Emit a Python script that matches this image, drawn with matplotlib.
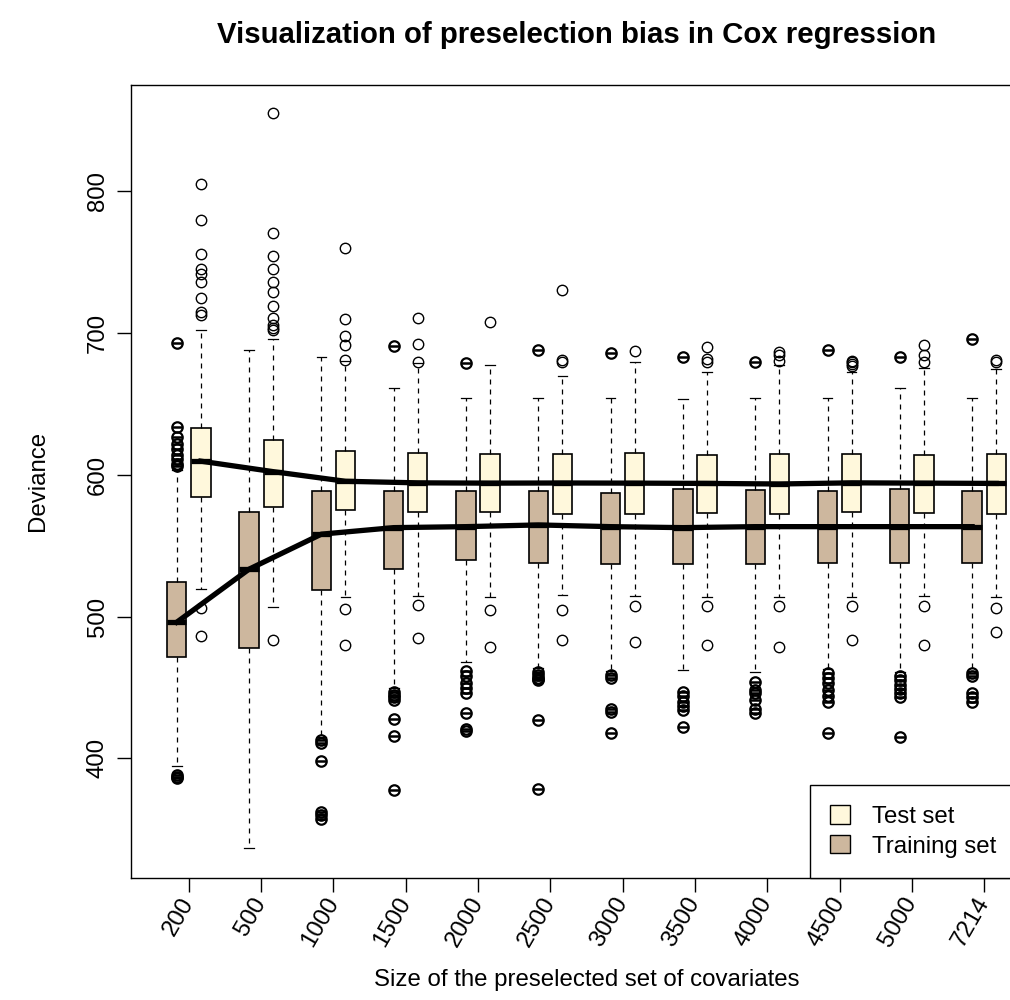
import matplotlib
matplotlib.use("Agg")
import matplotlib.pyplot as plt
from matplotlib.patches import Patch

plt.rcParams['font.family'] = ['Liberation Sans', 'DejaVu Sans']

# Size of the preselected covariate set
sizes = ["200", "500", "1000", "1500", "2000", "2500", "3000", "3500",
         "4000", "4500", "5000", "7214"]

# Training set deviance summaries
train_q3 = [524.7, 573.9, 588.9, 588.9, 588.9, 588.9, 587.5, 590.3, 589.4, 588.7, 589.9, 588.9]
train_med = [496.1, 533.5, 558.2, 562.8, 563.5, 564.7, 563.5, 562.8, 563.5, 563.5, 563.5, 563.5]
train_q1 = [471.8, 478.0, 519.1, 533.4, 540.2, 538.1, 537.2, 537.2, 537.2, 537.7, 537.7, 537.7]
train_whi = [603.5, 688.2, 683.0, 661.1, 654.3, 654.3, 654.3, 653.8, 654.3, 654.3, 661.2, 654.3]
train_wlo = [394.7, 337.0, 415.0, 449.5, 468.0, 464.0, 462.0, 462.2, 461.2, 463.0, 461.2, 462.0]
train_out = [
    [386, 387, 388, 606, 608, 611, 614, 618, 622, 627, 634, 693],
    [],
    [357, 360, 362.5, 398, 411, 413],
    [378, 416, 428, 441, 443, 445, 447, 690.6],
    [419, 421, 432, 446, 450, 453, 458, 462, 679],
    [378.5, 427, 455, 456, 457, 459, 461, 688],
    [418, 433, 435, 457, 459, 686],
    [422, 434, 437, 440, 444, 447, 683],
    [432, 435, 441, 446, 448, 454, 679.5],
    [418, 440, 444, 448, 453, 457, 460, 688],
    [415, 443, 446, 449, 452, 455, 458, 683],
    [440, 443, 446, 458, 460, 696],
]

# Test set deviance summaries
test_q3 = [632.9, 624.9, 617.2, 615.3, 615.1, 614.8, 615.3, 614.1, 615.1, 614.8, 614.1, 614.8]
test_med = [609.7, 602.3, 595.5, 594.4, 594.2, 594.3, 594.2, 594.0, 593.6, 594.4, 594.2, 594.0]
test_q1 = [584.3, 577.6, 575.5, 573.9, 573.7, 572.7, 572.7, 573.4, 572.5, 573.7, 573.0, 572.5]
test_whi = [702.3, 695.7, 680.4, 678.8, 677.4, 669.6, 679.5, 672.9, 677.6, 672.9, 675.2, 674.5]
test_wlo = [519.6, 507.1, 513.9, 514.4, 514.2, 515.1, 514.9, 514.2, 514.2, 514.2, 514.6, 514.2]
test_out = [
    [486.6, 506, 713, 715, 725, 736, 742, 745, 756, 780, 805],
    [483.4, 702, 704, 706, 711, 719, 729, 736, 745, 754.5, 771, 855],
    [480.3, 505.7, 681, 692, 698, 710, 760],
    [485, 508, 680, 692.6, 711],
    [478.4, 505, 708],
    [483.6, 505, 679.6, 681, 730.5],
    [482, 507.4, 687.7],
    [479.8, 507.6, 680, 681.5, 690],
    [478.4, 507.6, 680.4, 684.7, 687],
    [483.6, 507.6, 677, 678, 679.5, 680.5],
    [480, 507.6, 680, 684.7, 692],
    [489, 506, 680, 681],
]

TRAIN_COL = "#CDB79E"
TEST_COL = "#FFF8DC"
FS = 17.3

n = len(sizes)
train_pos = [3 * i + 1 for i in range(n)]
test_pos = [3 * i + 2 for i in range(n)]
tick_pos = [3 * i + 1.5 for i in range(n)]


def make_stats(med, q1, q3, lo, hi, out):
    return [dict(med=med[i], q1=q1[i], q3=q3[i], whislo=lo[i], whishi=hi[i],
                 fliers=out[i]) for i in range(len(med))]


fig = plt.figure(figsize=(10.1, 10), dpi=100)
ax = fig.add_axes([131 / 1010, 122 / 1000, 911 / 1010, 793 / 1000])


def draw_boxes(stats, pos, color, mew):
    ax.bxp(stats, positions=pos, widths=0.8, patch_artist=True,
           capwidths=0.4,
           boxprops=dict(facecolor=color, edgecolor="black", linewidth=1.2),
           whiskerprops=dict(color="black", linewidth=0.9, linestyle=(0, (4, 4))),
           capprops=dict(color="black", linewidth=0.9),
           medianprops=dict(color="black", linewidth=3.8, solid_capstyle="butt"),
           flierprops=dict(marker="o", markerfacecolor="none", markeredgecolor="black",
                           markersize=7.5, markeredgewidth=mew))


draw_boxes(make_stats(train_med, train_q1, train_q3, train_wlo, train_whi, train_out),
           train_pos, TRAIN_COL, 1.6)
draw_boxes(make_stats(test_med, test_q1, test_q3, test_wlo, test_whi, test_out),
           test_pos, TEST_COL, 1.0)

# training outliers carry a bar through the circle
for p, vals in zip(train_pos, train_out):
    ax.plot([p] * len(vals), vals, linestyle="none", marker="_", markersize=7.5,
            markeredgewidth=1.8, color="black")

# medians joined across set sizes
ax.plot(train_pos, train_med, color="black", linewidth=3.8, zorder=5)
ax.plot(test_pos, test_med, color="black", linewidth=3.8, zorder=5)

ax.set_xlim(-0.9, 36.9)
ax.set_ylim(315.6, 875.1)

ax.set_xticks(tick_pos)
ax.set_xticklabels(sizes, rotation=60, ha="right", va="center",
                   rotation_mode="anchor", fontsize=FS)
ax.set_yticks([400, 500, 600, 700, 800])
ax.set_yticklabels(["400", "500", "600", "700", "800"], rotation=90,
                   va="center", fontsize=FS)
ax.tick_params(axis="both", length=10, width=1, color="black")
ax.tick_params(axis="x", pad=5)
ax.tick_params(axis="y", pad=6)
for sp in ax.spines.values():
    sp.set_linewidth(1.0)

handles = [Patch(facecolor=TEST_COL, edgecolor="black", linewidth=1.0),
           Patch(facecolor=TRAIN_COL, edgecolor="black", linewidth=1.0)]
leg = ax.legend(handles, ["Test set", "Training set"], loc="lower left",
                bbox_to_anchor=(0.7453, 0.0, 0.2547, 0.1), mode="expand",
                borderaxespad=0, fancybox=False, framealpha=1, edgecolor="black",
                fontsize=FS, handlelength=0.8, handleheight=0.8,
                handletextpad=0.95, borderpad=0.85, labelspacing=0.3)
leg.get_frame().set_linewidth(1.0)

fig.text(577 / 1010, 1 - 35 / 1000, "Visualization of preselection bias in Cox regression",
         ha="center", va="center", fontsize=21.2, fontweight="bold")
fig.text(587 / 1010, 1 - 980 / 1000, "Size of the preselected set of covariates",
         ha="center", va="center", fontsize=FS)
fig.text(38 / 1010, 1 - 481 / 1000, "Deviance", rotation=90,
         ha="center", va="center", fontsize=FS)

fig.savefig("out.png", dpi=100)
